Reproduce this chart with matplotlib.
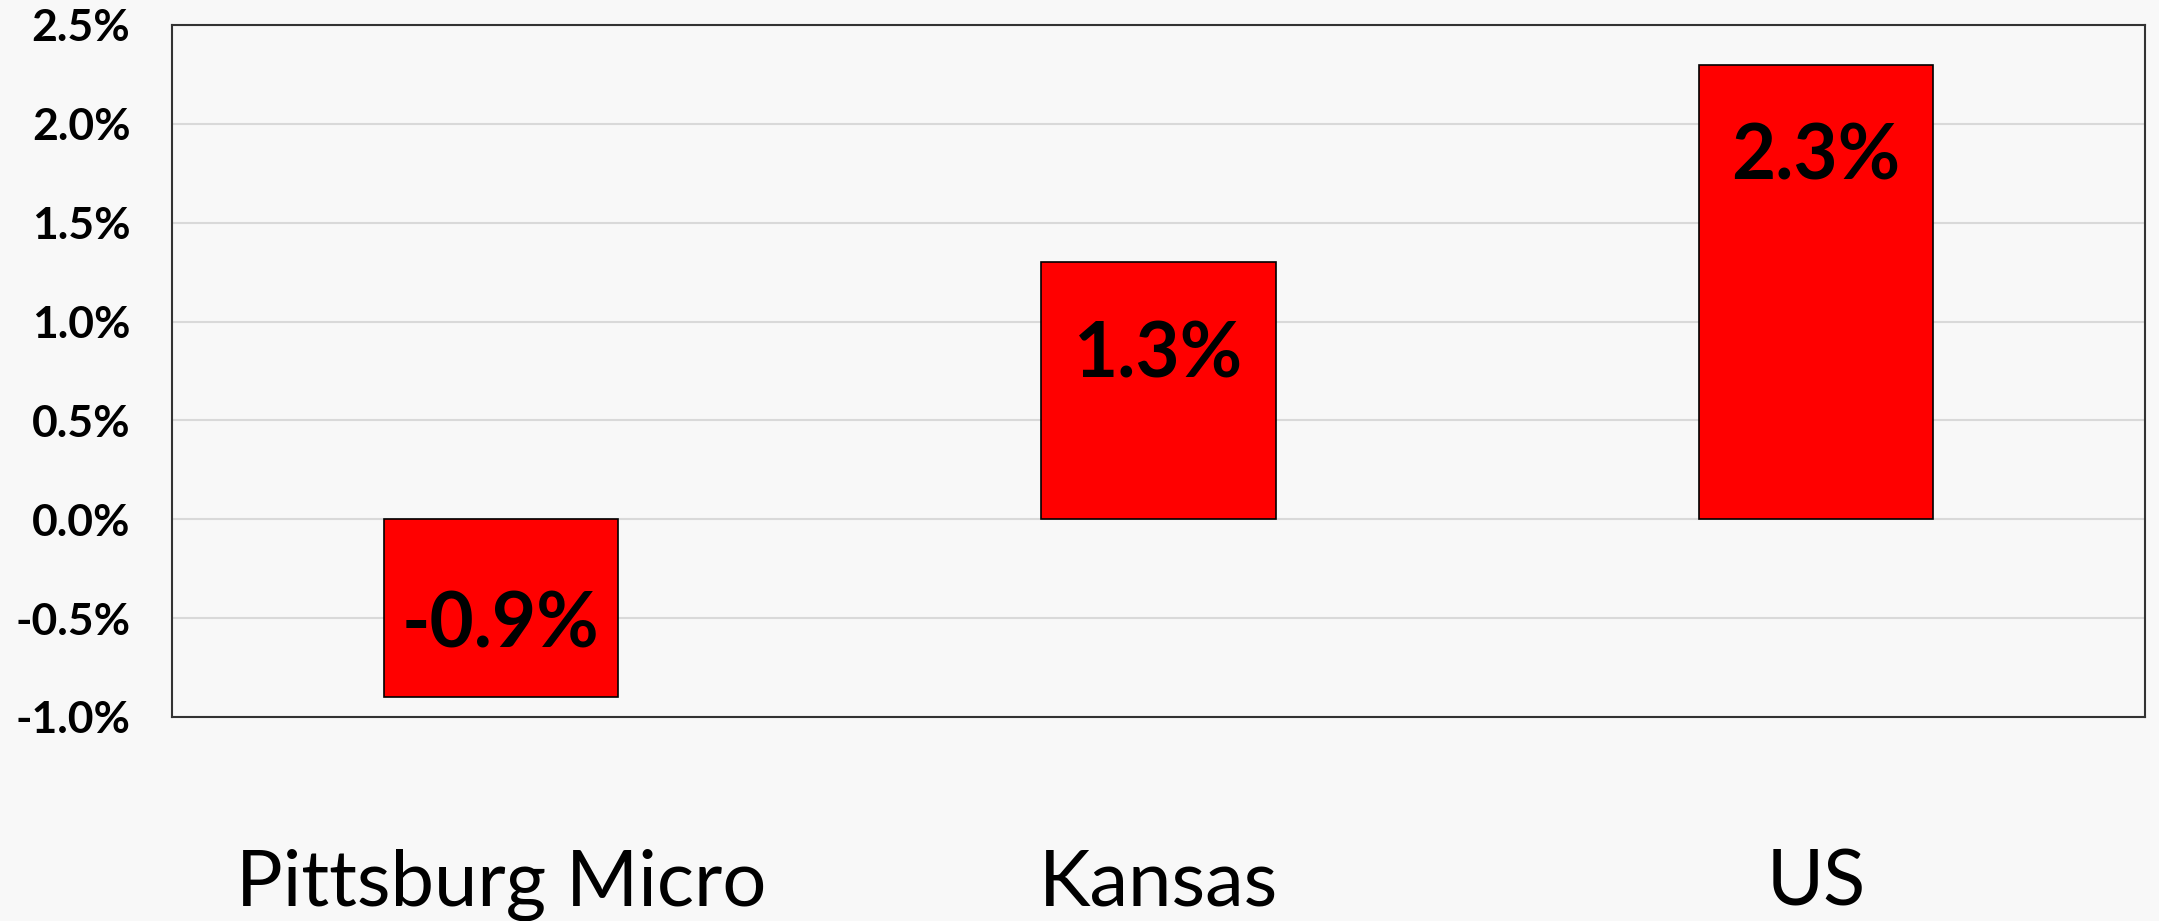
import numpy as np
import matplotlib.pyplot as plt
from matplotlib.ticker import FuncFormatter

# Datos
regions = ['Pittsburg Micro', 'Kansas', 'US']
growth = [-0.9, 1.3, 2.3]
labels = ['-0.9%', '1.3%', '2.3%']
y_ticks = [-1.0, -0.5, 0.0, 0.5, 1.0, 1.5, 2.0, 2.5]

bg = '#f8f8f8'
plt.rcParams['font.family'] = ['Lato', 'DejaVu Sans']

fig = plt.figure(figsize=(21.59, 9.21), dpi=100, facecolor=bg)
ax = fig.add_axes([0.0797, 0.2215, 0.9138, 0.7514], facecolor=bg)

x = np.arange(len(regions))
ax.bar(x, growth, width=0.356, color='#ff0000', edgecolor='black', linewidth=1.2, zorder=3)

# Etiquetas de valor dentro de las barras
for xi, v, lab in zip(x, growth, labels):
    off = -67 if v > 0 else 52
    ax.annotate(lab, xy=(xi, v), xytext=(0, off), textcoords='offset points',
                ha='center', va='center', fontsize=55, fontweight='bold', color='black', zorder=4)

ax.set_xlim(-0.5, 2.5)
ax.set_ylim(-1.0, 2.5)
ax.set_yticks(y_ticks)
ax.yaxis.set_major_formatter(FuncFormatter(lambda v, p: f'{v:.1f}%'))
ax.set_xticks(x)
ax.set_xticklabels(regions, fontsize=56)
ax.tick_params(axis='x', length=0, pad=95)
ax.tick_params(axis='y', length=0, pad=30, labelsize=32)
for t in ax.get_yticklabels():
    t.set_fontweight('bold')

ax.grid(axis='y', color='#d9d9d9', linewidth=1.5, zorder=0)
for s in ax.spines.values():
    s.set_color('#333333')
    s.set_linewidth(1.5)

fig.savefig('out.png', dpi=100, facecolor=bg)
